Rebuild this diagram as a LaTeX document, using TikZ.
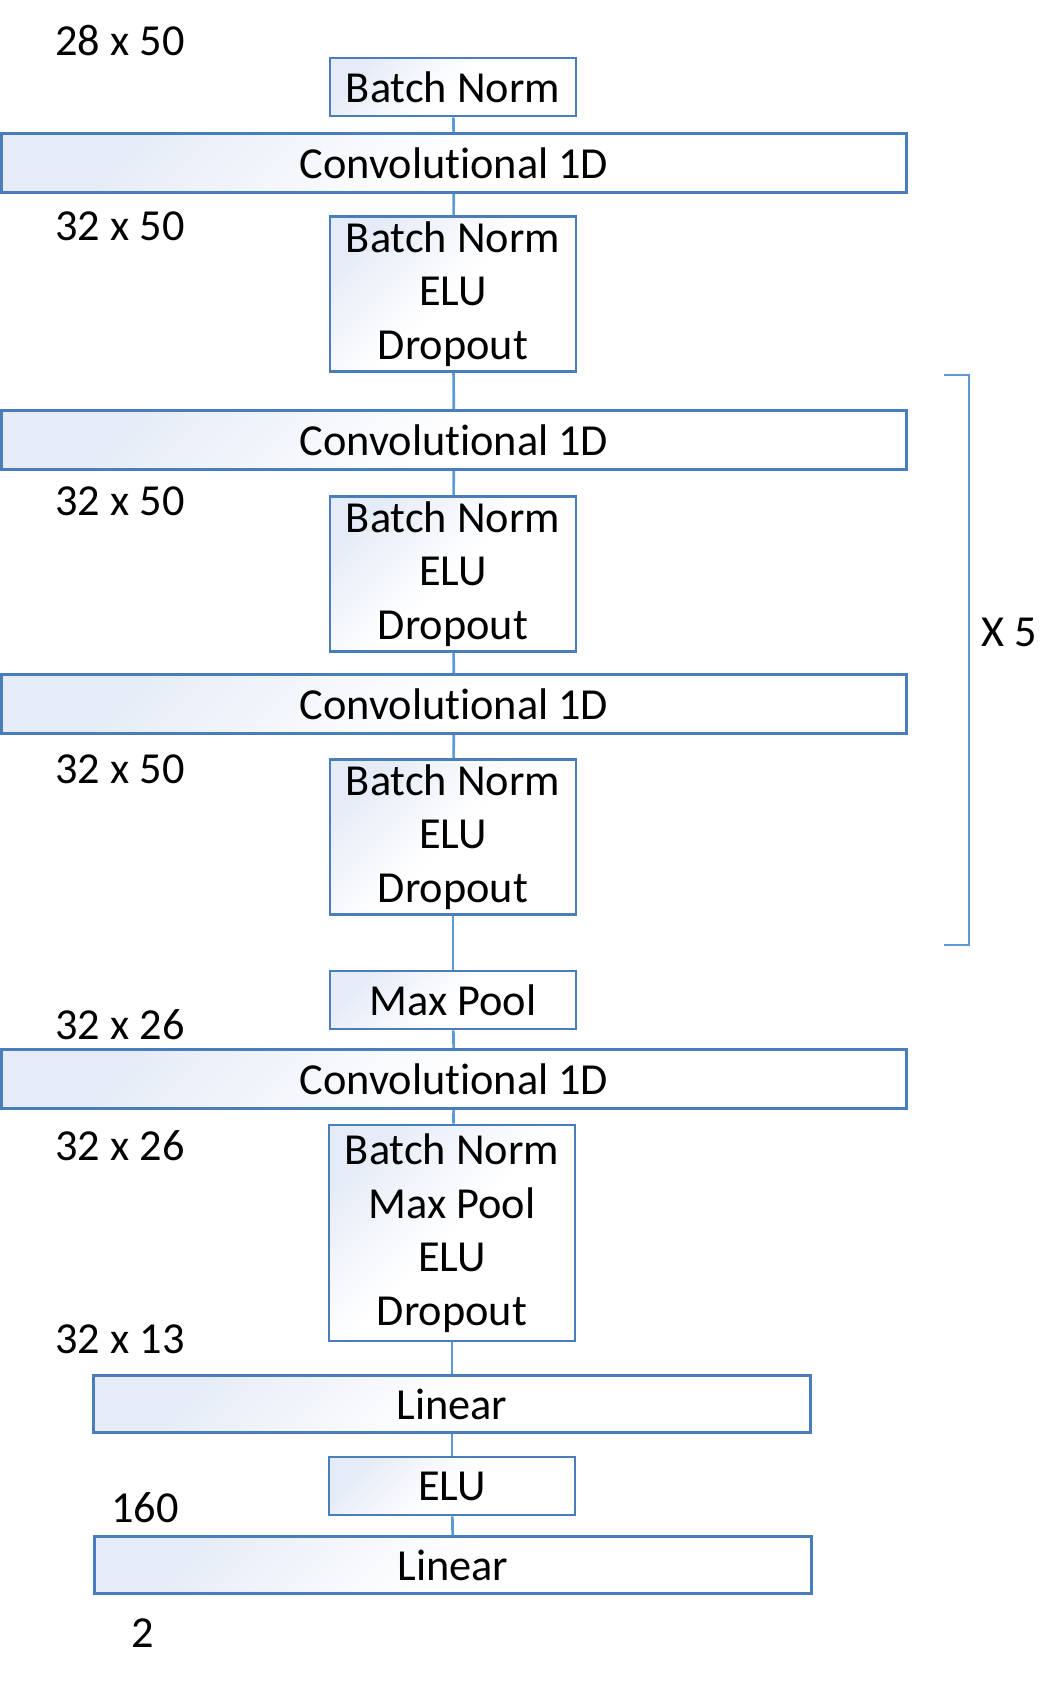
\documentclass[tikz,border=0pt]{standalone}
\usepackage{fontspec}
\setmainfont{Carlito}[Ligatures=NoCommon]
\usetikzlibrary{positioning}
\definecolor{edge}{HTML}{4A7EBB}
\definecolor{wire}{HTML}{5B9BD5}
\definecolor{boxfill}{HTML}{E6ECF7}
\definecolor{ink}{HTML}{000000}

\begin{document}
\begin{tikzpicture}[x=0.01cm, y=-0.01cm,
  layer/.style={draw=edge, line width=0.75pt, top color=boxfill, bottom color=white,
                middle color=white, shading angle=45, inner sep=0pt,
                align=center, font=\fontsize{12.6}{15.2}\selectfont, text=ink},
  small/.style={layer, minimum width=2.46cm, minimum height=0.58cm},
  tall/.style={layer, minimum width=2.46cm, minimum height=1.55cm},
  wide/.style={layer, minimum width=9.05cm, minimum height=0.59cm},
  lin/.style={layer, minimum width=7.16cm, minimum height=0.57cm},
  dim/.style={font=\fontsize{12.6}{15.2}\selectfont, text=ink},
  link/.style={draw=wire, line width=0.75pt}
]
  \useasboundingbox (0,0) rectangle (1060,1683);

  % ── Input ──
  \node[dim] (dimIn) at (120, 41) {28 x 50};
  \node[small] (bnIn) at (453, 87) {Batch Norm};
  \node[wide] (convA) at (454, 163) {Convolutional 1D};
  \node[dim] (dimA) at (120, 226) {32 x 50};
  \node[tall] (actA) at (453, 294) {Batch Norm\\ELU\\Dropout};

  % ── Repeated block ──
  \node[wide] (convB) at (454, 440) {Convolutional 1D};
  \node[dim] (dimB) at (120, 501) {32 x 50};
  \node[tall] (actB) at (453, 574) {Batch Norm\\ELU\\Dropout};
  \node[wide] (convC) at (454, 704) {Convolutional 1D};
  \node[dim] (dimC) at (120, 769) {32 x 50};
  \node[tall] (actC) at (453, 837) {Batch Norm\\ELU\\Dropout};

  % ── Pooling + last conv ──
  \node[small] (poolA) at (453, 1000) {Max Pool};
  \node[dim] (dimD) at (120, 1025) {32 x 26};
  \node[wide] (convD) at (454, 1079) {Convolutional 1D};
  \node[dim] (dimE) at (120, 1146) {32 x 26};
  \node[layer, minimum width=2.46cm, minimum height=2.16cm] (actD) at (452, 1233)
    {Batch Norm\\Max Pool\\ELU\\Dropout};
  \node[dim] (dimF) at (120, 1339) {32 x 13};

  % ── Classifier ──
  \node[lin] (linA) at (452, 1404) {Linear};
  \node[small] (eluA) at (452, 1486) {ELU};
  \node[dim] (dimG) at (145, 1508) {160};
  \node[lin] (linB) at (453, 1565) {Linear};
  \node[dim] (dimH) at (143, 1633) {2};

  % Connectors
  \draw[link] (bnIn) -- (convA);
  \draw[link] (convA) -- (actA);
  \draw[link] (actA) -- (convB);
  \draw[link] (convB) -- (actB);
  \draw[link] (actB) -- (convC);
  \draw[link] (convC) -- (actC);
  \draw[link] (actC) -- (poolA);
  \draw[link] (poolA) -- (convD);
  \draw[link] (convD) -- (actD);
  \draw[link] (actD) -- (linA);
  \draw[link] (linA) -- (eluA);
  \draw[link] (eluA) -- (linB);

  % ── Repeat bracket ──
  \coordinate (brTop) at (944, 375);
  \coordinate (brBot) at (944, 945);
  \draw[link] (brTop) -- ++(25,0) |- (brBot);
  \node[dim] (rep) at (1009, 632) {X 5};
\end{tikzpicture}
\end{document}
